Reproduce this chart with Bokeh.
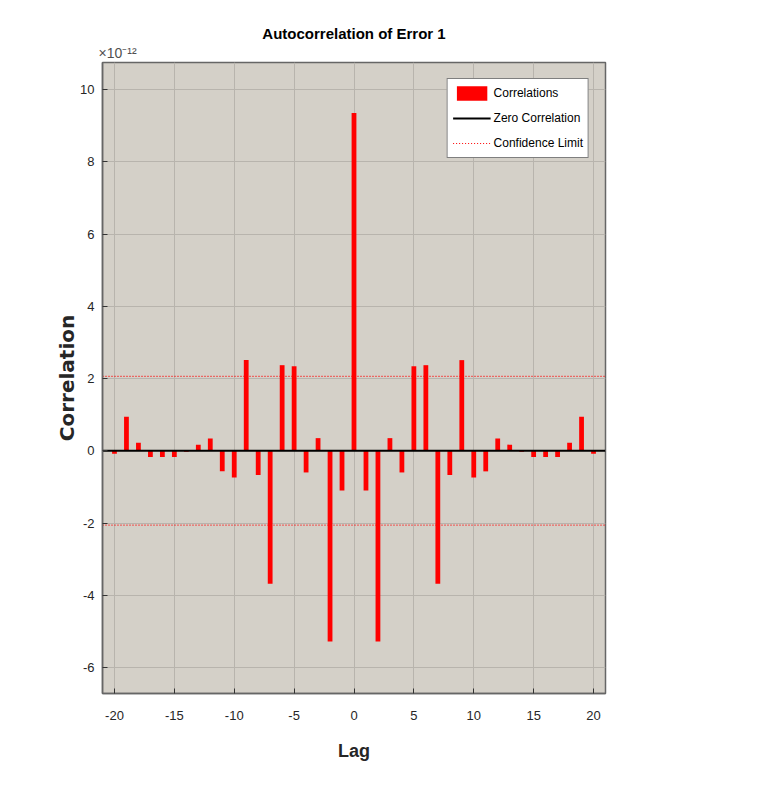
from bokeh.plotting import figure
from bokeh.models import (Range1d, Legend, LegendItem, Title,
                          FixedTicker, ColumnDataSource)
from bokeh.embed import file_html
from bokeh.resources import INLINE

# ---- data (correlation values in units of 1e-12) ----
lags = list(range(-20, 21))
correlations = [
    -0.08, 0.94, 0.22, -0.17, -0.17, -0.17, -0.03, 0.17, 0.34, -0.57,
    -0.74, 2.51, -0.67, -3.68, 2.37, 2.34, -0.60, 0.35, -5.28, -1.10,
    9.35,
    -1.10, -5.28, 0.35, -0.60, 2.34, 2.37, -3.68, -0.67, 2.51, -0.74,
    -0.57, 0.34, 0.17, -0.03, -0.17, -0.17, -0.17, 0.22, 0.94, -0.08,
]
confidence_limit = 2.06
x_ticks = [-20, -15, -10, -5, 0, 5, 10, 15, 20]
y_ticks = [-6, -4, -2, 0, 2, 4, 6, 8, 10]
x_limits = [-21, 21]
y_limits = [-6.72, 10.75]

BG = "#d4d0c8"
GRID = "#b8b4ad"
AXIS = "#666666"
TICKTXT = "#262626"
SANS = "Liberation Sans"

p = figure(width=757, height=782, output_backend="svg", toolbar_location=None,
           x_range=Range1d(*x_limits), y_range=Range1d(*y_limits),
           min_border_left=102, min_border_right=152,
           min_border_top=62, min_border_bottom=89)
p.background_fill_color = BG
p.border_fill_color = "white"
p.outline_line_color = AXIS
p.outline_line_width = 1.5

# axes
for ax in (p.xaxis[0], p.yaxis[0]):
    ax.major_tick_in = 5
    ax.major_tick_out = 0
    ax.minor_tick_in = 0
    ax.minor_tick_out = 0
    ax.axis_line_color = AXIS
    ax.axis_line_width = 1.5
    ax.major_tick_line_color = "#333333"
    ax.major_label_text_font = SANS
    ax.major_label_text_font_size = "13px"
    ax.major_label_text_color = TICKTXT
p.xaxis.ticker = FixedTicker(ticks=x_ticks)
p.yaxis.ticker = FixedTicker(ticks=y_ticks)
p.xaxis.major_label_overrides = {t: str(t) for t in x_ticks}
p.yaxis.major_label_overrides = {t: str(t) for t in y_ticks}
p.xaxis.major_label_standoff = 17
p.yaxis.major_label_standoff = 8
p.xaxis.axis_label = "Lag"
p.xaxis.axis_label_text_font = SANS
p.xaxis.axis_label_text_font_style = "bold"
p.xaxis.axis_label_text_font_size = "18px"
p.xaxis.axis_label_text_color = "#262626"
p.xaxis.axis_label_standoff = 18
p.yaxis.axis_label = "Correlation"
p.yaxis.axis_label_text_font = "DejaVu Sans"
p.yaxis.axis_label_text_font_style = "bold"
p.yaxis.axis_label_text_font_size = "20px"
p.yaxis.axis_label_text_color = "#262626"
p.yaxis.axis_label_standoff = -2

# grid
p.xgrid.ticker = FixedTicker(ticks=x_ticks)
p.ygrid.ticker = FixedTicker(ticks=y_ticks)
p.grid.grid_line_color = GRID
p.grid.grid_line_width = 1

# bars
src = ColumnDataSource(dict(lag=lags, corr=correlations))
bars = p.vbar(x="lag", top="corr", bottom=0, width=0.4, source=src,
              fill_color="#ff0000", line_color=None)

# confidence limits
conf_up = p.line(x=x_limits, y=[confidence_limit, confidence_limit],
                 line_color="#ff0000", line_width=1.2, line_dash="1 2")
p.line(x=x_limits, y=[-confidence_limit, -confidence_limit],
       line_color="#ff0000", line_width=1.2, line_dash="1 2")

# zero line
zero = p.line(x=x_limits, y=[0, 0], line_color="black", line_width=2)

# legend
legend = Legend(items=[
    LegendItem(label="Correlations", renderers=[bars]),
    LegendItem(label="Zero Correlation", renderers=[zero]),
    LegendItem(label="Confidence Limit", renderers=[conf_up]),
], location="top_right", margin=16, padding=5, spacing=7,
    glyph_width=38, glyph_height=18, label_height=18, label_standoff=3,
    label_text_font=SANS, label_text_font_size="12px",
    label_text_color="black", border_line_color="black",
    border_line_width=1, background_fill_color="white",
    background_fill_alpha=1.0)
p.add_layout(legend)

# exponent (closest to frame) and main title
p.add_layout(Title(text="\u00d710\u207b\u00b9\u00b2", align="left",
                   offset=-4, standoff=3, text_font=SANS,
                   text_font_style="normal", text_font_size="14px",
                   text_color="#505050"), "above")
p.title.text = "Autocorrelation of Error 1"
p.title.align = "center"
p.title.text_font = SANS
p.title.text_font_style = "bold"
p.title.text_font_size = "15px"
p.title.text_color = "black"
p.title.standoff = 0

open("out.html", "w").write(file_html(p, INLINE))
